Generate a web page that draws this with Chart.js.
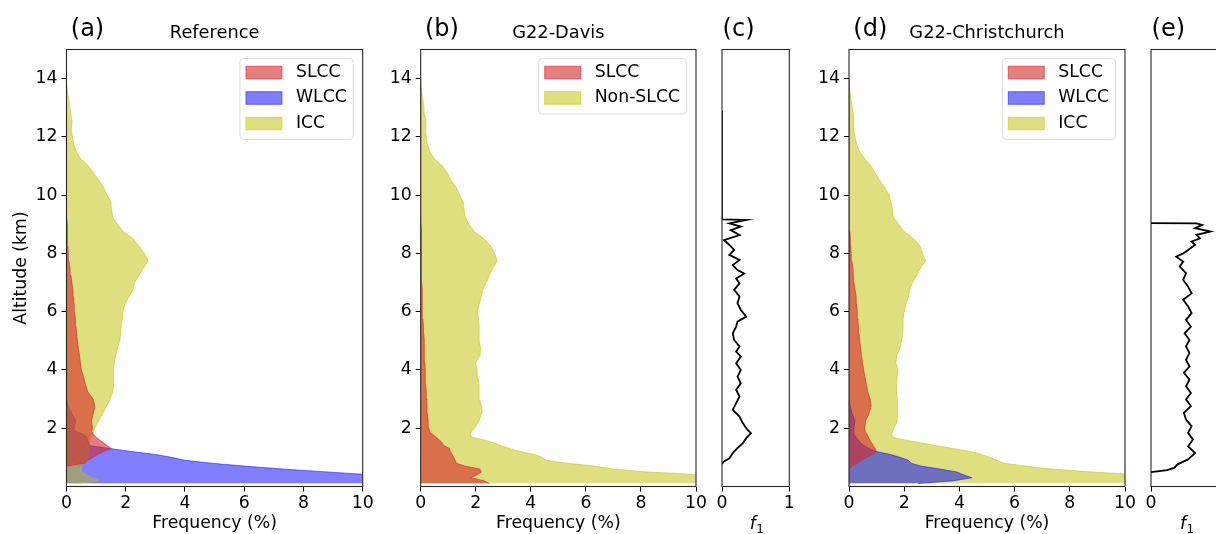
<!DOCTYPE html>
<html>
<head>
<meta charset="utf-8">
<script src="https://cdn.jsdelivr.net/npm/chart.js@4.4.0/dist/chart.umd.min.js"></script>
<style>
  html, body { margin: 0; padding: 0; background: #fff; }
  body { width: 1216px; height: 534px; overflow: hidden; position: relative; }
  canvas { position: absolute; top: 0; }
</style>
</head>
<body>
<canvas id="panelA" width="384" height="534" style="left:0px"></canvas>
<canvas id="panelB" width="348" height="534" style="left:368px"></canvas>
<canvas id="panelC" width="88" height="534" style="left:712px"></canvas>
<canvas id="panelD" width="349" height="534" style="left:796px"></canvas>
<canvas id="panelE" width="92" height="534" style="left:1141px"></canvas>
<script>
// altitude grid (km) shared by the frequency profiles
const altKm = [0.1,0.2,0.3,0.4,0.5,0.6,0.7,0.8,0.9,1.0,1.1,1.2,1.3,1.4,1.5,1.6,1.7,1.8,1.9,2.0,
  2.25,2.5,2.75,3.0,3.25,3.5,3.75,4.0,4.25,4.5,4.75,5.0,5.25,5.5,5.75,6.0,6.25,6.5,6.75,7.0,
  7.25,7.5,7.75,8.0,8.25,8.5,8.75,9.0,9.25,9.5,9.75,10.0,10.25,10.5,10.75,11.0,11.25,11.5,11.75,12.0,
  12.25,12.5,12.75,13.0,13.25,13.5,13.75,14.0];

// (a) Reference, frequency (%)
const refSLCC = [0,0,0,0,0,0,0,0.62,0.72,0.9, 1.05,1.25,1.52,1.38,1.25,1.12,1.0,0.9,0.85,0.88,
  0.84,0.9,0.96,0.9,0.72,0.64,0.58,0.5,0.47,0.44, 0.4,0.37,0.34,0.32,0.3,0.27,0.26,0.24,0.22,0.18,
  0.15,0.12,0.08,0.06,0.05,0.04,0.03,0.02, 0,0,0,0,0,0,0,0,0,0,0,0,0,0,0,0,0,0,0,0];
const refWLCC = [13,13,12,10.3,8.8,7.3,6.0,4.9,4.0,3.55, 3.0,2.2,1.5,0.8,0.74,0.72,0.7,0.55,0.3,0.25,
  0.32,0.18,0.06, 0,0,0,0,0,0,0,0,0,0,0,0,0,0,0,0,0,0,0,0,0,0,0,0,0,0,0,0,0,0,0,0,0,0,0,0,0,0,0,0,0,0,0,0,0];
const refICC = [0.3,1.1,0.85,0.65,0.52,0.5,0.5,0.55,0.7,0.72, 0.72,0.73,0.74,0.74,0.76,0.78,0.82,0.88,0.92,0.95,
  1.08,1.22,1.35,1.47,1.56,1.6,1.57,1.6,1.62,1.66, 1.72,1.8,1.83,1.84,1.88,1.9,1.97,2.1,2.24,2.3,
  2.45,2.6,2.76,2.63,2.45,2.25,1.92,1.72,1.56,1.52, 1.5,1.38,1.26,1.1,0.92,0.75,0.48,0.33,0.25,0.2,
  0.16,0.19,0.15,0.11,0.08,0.04,0.01,0];

// (b) G22-Davis
const davisSLCC = [2.5,2.3,1.8,2.05,2.2,2.15,1.6,1.3,1.25,1.2, 1.15,1.07,1.05,0.85,0.78,0.68,0.55,0.42,0.32,0.3,
  0.27,0.24,0.23,0.22,0.2,0.18,0.17,0.16,0.15,0.14, 0.13,0.12,0.11,0.1,0.08,0.07,0.06,0.05,0.05,0.04,
  0.04,0.03,0.03,0.03,0.02,0.02,0.02,0.01, 0,0,0,0,0,0,0,0,0,0,0,0,0,0,0,0,0,0,0,0];
const davisNonSLCC = [13,13,12,10.3,8.2,7.0,6.3,5.3,4.55,4.4, 4.15,3.6,3.25,2.95,2.65,2.3,1.85,1.8,1.85,1.95,
  2.12,2.2,2.22,2.12,2.12,2.12,2.08,2.05,2.0,2.15, 2.18,2.12,2.13,2.12,2.1,2.06,2.12,2.2,2.25,2.38,
  2.5,2.62,2.79,2.68,2.55,2.3,1.95,1.75,1.62,1.58, 1.55,1.42,1.3,1.1,0.97,0.8,0.5,0.33,0.24,0.2,
  0.18,0.19,0.15,0.12,0.08,0.04,0.01,0];

// (c) f1 for G22-Davis
const davisF1Alt = [0.77,0.86,0.97,1.15,1.32,1.49,1.66,1.83,1.94,2.17,2.4,2.63,2.86,3.09,3.32,3.54,3.77,4.0,4.23,4.46,
  4.63,4.81,5.03,5.26,5.49,5.66,5.83,6.06,6.29,6.52,6.75,6.97,7.14,7.31,7.43,7.6,7.78,7.95,8.12,8.29,
  8.46,8.63,8.8,8.92,9.03,9.15,9.17,10.5,12.9];
const davisF1 = [0,0.03,0.11,0.16,0.23,0.31,0.36,0.43,0.38,0.31,0.26,0.16,0.21,0.26,0.21,0.28,0.23,0.28,0.21,0.28,
  0.21,0.26,0.18,0.16,0.21,0.23,0.36,0.28,0.23,0.26,0.18,0.26,0.21,0.33,0.23,0.16,0.26,0.11,0.18,0.11,
  0.03,0.26,0.13,0.28,0.11,0.36,0,0,0];

// (d) G22-Christchurch
const chchSLCC = [0,0,0,0,0,0,0.12,0.3,0.45,0.65, 0.85,1.0,0.95,0.88,0.82,0.75,0.7,0.65,0.58,0.57,
  0.6,0.72,0.8,0.77,0.68,0.63,0.58,0.53,0.49,0.45, 0.42,0.39,0.36,0.34,0.32,0.3,0.28,0.26,0.22,0.18,
  0.16,0.14,0.1,0.08,0.06,0.05,0.03, 0,0,0,0,0,0,0,0,0,0,0,0,0,0,0,0,0,0,0,0,0];
const chchWLCC = [2.5,3.8,4.45,4.15,3.9,3.3,2.6,2.25,2.15,1.85, 1.5,1.0,0.75,0.55,0.42,0.33,0.25,0.18,0.17,0.18,
  0.22,0.12,0.04, 0,0,0,0,0,0,0,0,0,0,0,0,0,0,0,0,0,0,0,0,0,0,0,0,0,0,0,0,0,0,0,0,0,0,0,0,0,0,0,0,0,0,0,0,0];
const chchICC = [12,12,12,10.5,8.8,7.3,6.4,5.6,5.35,5.1, 4.8,4.4,3.8,3.2,2.6,2.0,1.56,1.55,1.58,1.62,
  1.75,1.74,1.75,1.76,1.72,1.73,1.74,1.78,1.7,1.73, 1.85,1.9,1.95,1.96,1.96,2.0,2.06,2.15,2.2,2.3,
  2.45,2.6,2.78,2.66,2.58,2.35,2.0,1.8,1.6,1.58, 1.52,1.46,1.3,1.12,0.95,0.8,0.58,0.38,0.28,0.22,
  0.17,0.18,0.15,0.12,0.08,0.04,0.01,0];

// (e) f1 for G22-Christchurch
const chchF1Alt = [0.49,0.56,0.64,0.76,0.93,1.15,1.38,1.61,1.84,2.07,2.3,2.53,2.76,2.99,3.21,3.44,3.67,3.9,4.12,4.35,
  4.58,4.81,5.03,5.26,5.49,5.72,5.95,6.18,6.41,6.63,6.86,7.09,7.32,7.55,7.72,7.89,8.0,8.12,8.29,8.41,
  8.52,8.64,8.75,8.87,8.98,9.03,9.04];
const chchF1 = [0,0.23,0.33,0.38,0.53,0.63,0.53,0.6,0.53,0.58,0.5,0.47,0.57,0.5,0.57,0.5,0.55,0.47,0.55,0.5,
  0.55,0.5,0.55,0.48,0.57,0.5,0.58,0.53,0.46,0.58,0.53,0.46,0.5,0.41,0.46,0.36,0.46,0.53,0.63,0.58,
  0.7,0.65,0.85,0.63,0.73,0.65,0];

const yTicks = [2, 4, 6, 8, 10, 12, 14];
const freqTicks = [0, 2, 4, 6, 8, 10];

const RED = 'rgba(214,39,40,0.6)';
const BLUE = 'rgba(0,0,255,0.5)';
const YELLOW = 'rgba(191,191,0,0.5)';
const FONT = "'DejaVu Sans', sans-serif";

Chart.defaults.font.family = FONT;
Chart.defaults.font.size = 17.3;
Chart.defaults.color = '#000';

function profile(label, values, color) {
  return {
    label: label,
    data: altKm.map((a, i) => ({ x: values[i], y: a })),
    backgroundColor: color,
    borderColor: color,
    borderWidth: 1,
    fill: 'origin',
    pointRadius: 0,
    tension: 0
  };
}

function f1Line(alts, vals) {
  return {
    label: 'f1',
    data: alts.map((a, i) => ({ x: vals[i], y: a })),
    borderColor: '#000',
    borderWidth: 1.8,
    fill: false,
    pointRadius: 0,
    tension: 0
  };
}

// frame, panel letter, title, legend and f1 label
const panelDecor = {
  id: 'panelDecor',
  afterDraw(chart, args, o) {
    const ctx = chart.ctx, a = chart.chartArea;
    ctx.save();
    ctx.strokeStyle = '#262626';
    ctx.lineWidth = 1.1;
    ctx.strokeRect(a.left, a.top, a.right - a.left, a.bottom - a.top);

    ctx.fillStyle = '#000';
    ctx.textAlign = 'left';
    ctx.textBaseline = 'alphabetic';
    ctx.font = '24px ' + FONT;
    ctx.fillText(o.letter, a.left + o.letterDx, 36);
    if (o.title) {
      ctx.font = '17.8px ' + FONT;
      ctx.textAlign = 'center';
      ctx.fillText(o.title, (a.left + a.right) / 2, 37.5);
    }

    if (o.legend) {
      const items = o.legend.map(i => chart.data.datasets[i]);
      ctx.font = '17.3px ' + FONT;
      const tw = Math.max(...items.map(d => ctx.measureText(d.label).width));
      const bw = 56 + tw + 6.5;
      const bh = 14 + 25.5 * (items.length - 1) + 16;
      const bx = a.right - 9.4 - bw, by = a.top + 9;
      ctx.beginPath();
      ctx.roundRect(bx, by, bw, bh, 4);
      ctx.fillStyle = 'rgba(255,255,255,0.8)';
      ctx.fill();
      ctx.strokeStyle = '#dcdcdc';
      ctx.lineWidth = 1;
      ctx.stroke();
      items.forEach((d, k) => {
        const cy = by + 14 + 25.5 * k;
        ctx.fillStyle = d.backgroundColor;
        ctx.fillRect(bx + 6, cy - 6.3, 36, 12.6);
        ctx.strokeStyle = d.borderColor;
        ctx.strokeRect(bx + 6, cy - 6.3, 36, 12.6);
        ctx.fillStyle = '#000';
        ctx.textAlign = 'left';
        ctx.textBaseline = 'middle';
        ctx.fillText(d.label, bx + 56, cy);
      });
    }

    if (o.f1Label) {
      const cx = (a.left + a.right) / 2;
      ctx.fillStyle = '#000';
      ctx.textBaseline = 'alphabetic';
      ctx.textAlign = 'left';
      ctx.font = 'italic 17.3px ' + FONT;
      ctx.fillText('f', cx - 6, 529);
      ctx.font = '12px ' + FONT;
      ctx.fillText('1', cx + 0.5, 532.5);
    }
    ctx.restore();
  }
};

function makePanel(id, p) {
  return new Chart(document.getElementById(id), {
    type: 'line',
    data: { datasets: p.datasets },
    options: {
      indexAxis: 'y',
      responsive: false,
      animation: false,
      events: [],
      layout: { padding: { top: 49.5, right: p.padRight, left: 0, bottom: 0 } },
      scales: {
        x: {
          type: 'linear',
          min: 0,
          max: p.xMax,
          afterBuildTicks: s => { s.ticks = p.xTicks.map(v => ({ value: v })); },
          ticks: { padding: 1.5, color: '#000' },
          grid: { drawOnChartArea: false, tickLength: 5, tickColor: '#000', lineWidth: 1 },
          border: { display: false },
          title: {
            display: !!p.xTitle,
            text: p.xTitle || '',
            color: '#000',
            padding: { top: 0, bottom: 0 }
          },
          afterFit: s => { s.height = 47.5; }
        },
        y: {
          type: 'linear',
          min: 0,
          max: 15,
          afterBuildTicks: s => { s.ticks = yTicks.map(v => ({ value: v })); },
          ticks: { display: p.yLabels, padding: 4, color: '#000' },
          grid: { drawOnChartArea: false, drawTicks: p.yLabels, tickLength: 5, tickColor: '#000', lineWidth: 1 },
          border: { display: false },
          title: {
            display: !!p.yTitle,
            text: p.yTitle || '',
            color: '#000',
            padding: { top: 11, bottom: 0 }
          },
          afterFit: s => { s.width = p.yWidth; }
        }
      },
      plugins: {
        legend: { display: false },
        tooltip: { enabled: false },
        panelDecor: p.decor
      }
    },
    plugins: [panelDecor]
  });
}

// dataset order: first one is drawn on top
makePanel('panelA', {
  datasets: [profile('SLCC', refSLCC, RED), profile('ICC', refICC, YELLOW), profile('WLCC', refWLCC, BLUE)],
  xMax: 10, xTicks: freqTicks, xTitle: 'Frequency (%)', yTitle: 'Altitude (km)',
  yLabels: true, yWidth: 66.5, padRight: 21.3,
  decor: { letter: '(a)', letterDx: 4.3, title: 'Reference', legend: [0, 2, 1] }
});

makePanel('panelB', {
  datasets: [profile('SLCC', davisSLCC, RED), profile('Non-SLCC', davisNonSLCC, YELLOW)],
  xMax: 10, xTicks: freqTicks, xTitle: 'Frequency (%)',
  yLabels: true, yWidth: 52.7, padRight: 20,
  decor: { letter: '(b)', letterDx: 4.3, title: 'G22-Davis', legend: [0, 1] }
});

makePanel('panelC', {
  datasets: [f1Line(davisF1Alt, davisF1)],
  xMax: 1, xTicks: [0, 1],
  yLabels: false, yWidth: 10, padRight: 10.7,
  decor: { letter: '(c)', letterDx: 0.6, f1Label: true }
});

makePanel('panelD', {
  datasets: [profile('SLCC', chchSLCC, RED), profile('WLCC', chchWLCC, BLUE), profile('ICC', chchICC, YELLOW)],
  xMax: 10, xTicks: freqTicks, xTitle: 'Frequency (%)',
  yLabels: true, yWidth: 53, padRight: 20,
  decor: { letter: '(d)', letterDx: 4.3, title: 'G22-Christchurch', legend: [0, 1, 2] }
});

makePanel('panelE', {
  datasets: [f1Line(chchF1Alt, chchF1)],
  xMax: 1, xTicks: [0, 1],
  yLabels: false, yWidth: 10, padRight: 12,
  decor: { letter: '(e)', letterDx: 0.6, f1Label: true }
});
</script>
</body>
</html>
